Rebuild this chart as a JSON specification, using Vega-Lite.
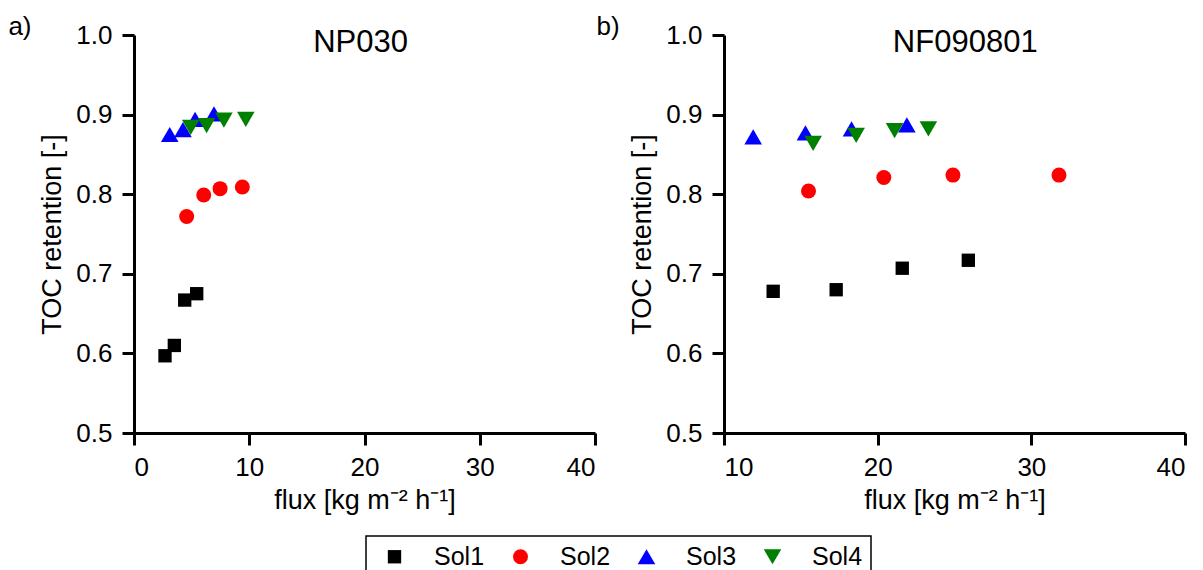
{
  "$schema": "https://vega.github.io/schema/vega-lite/v6.json",
  "padding": {"left": 8, "top": 14, "right": 0, "bottom": 0},
  "bounds": "flush",
  "spacing": 129,
  "config": {
    "font": "Liberation Sans",
    "view": {"stroke": null},
    "axis": {
      "domainColor": "black", "domainWidth": 3, "tickColor": "black", "tickWidth": 3, "tickSize": 12,
      "labelFontSize": 26, "labelColor": "black", "labelFont": "Liberation Sans",
      "titleFontSize": 27, "titleFontWeight": "normal", "titleColor": "black", "titleFont": "Liberation Sans",
      "grid": false
    },
    "axisX": {"labelPadding": 9, "titlePadding": 7},
    "axisY": {"labelPadding": 10, "titlePadding": 9},
    "legend": {"strokeWidth": 1.5},
    "text": {"font": "Liberation Sans", "color": "black"}
  },
  "datasets": {
    "np030": [
      {"series": "Sol1", "flux": 2.69, "ret": 0.597},
      {"series": "Sol1", "flux": 3.5, "ret": 0.61},
      {"series": "Sol1", "flux": 4.4, "ret": 0.667},
      {"series": "Sol1", "flux": 5.44, "ret": 0.675},
      {"series": "Sol2", "flux": 4.57, "ret": 0.772},
      {"series": "Sol2", "flux": 6.05, "ret": 0.799},
      {"series": "Sol2", "flux": 7.47, "ret": 0.807},
      {"series": "Sol2", "flux": 9.4, "ret": 0.809},
      {"series": "Sol3", "flux": 3.1, "ret": 0.875},
      {"series": "Sol3", "flux": 4.25, "ret": 0.881},
      {"series": "Sol3", "flux": 5.3, "ret": 0.894},
      {"series": "Sol3", "flux": 6.94, "ret": 0.901},
      {"series": "Sol4", "flux": 4.92, "ret": 0.884},
      {"series": "Sol4", "flux": 6.3, "ret": 0.886},
      {"series": "Sol4", "flux": 7.8, "ret": 0.893},
      {"series": "Sol4", "flux": 9.7, "ret": 0.894}
    ],
    "nf090801": [
      {"series": "Sol1", "flux": 13.2, "ret": 0.678},
      {"series": "Sol1", "flux": 17.3, "ret": 0.68},
      {"series": "Sol1", "flux": 21.6, "ret": 0.707},
      {"series": "Sol1", "flux": 25.9, "ret": 0.717},
      {"series": "Sol2", "flux": 15.5, "ret": 0.804},
      {"series": "Sol2", "flux": 20.4, "ret": 0.821},
      {"series": "Sol2", "flux": 24.9, "ret": 0.824},
      {"series": "Sol2", "flux": 31.8, "ret": 0.824},
      {"series": "Sol3", "flux": 11.9, "ret": 0.872},
      {"series": "Sol3", "flux": 15.3, "ret": 0.877},
      {"series": "Sol3", "flux": 18.3, "ret": 0.882},
      {"series": "Sol3", "flux": 21.9, "ret": 0.887},
      {"series": "Sol4", "flux": 15.8, "ret": 0.864},
      {"series": "Sol4", "flux": 18.6, "ret": 0.874},
      {"series": "Sol4", "flux": 21.1, "ret": 0.88},
      {"series": "Sol4", "flux": 23.3, "ret": 0.882}
    ]
  },
  "hconcat": [
    {
      "width": 461, "height": 398,
      "layer": [
        {
          "data": {"name": "np030"},
          "mark": {"type": "point", "filled": true, "opacity": 1, "strokeWidth": 0},
          "encoding": {
            "x": {"field": "flux", "type": "quantitative", "scale": {"domain": [0, 40], "nice": false, "zero": false}, "axis": {"values": [0, 10, 20, 30, 40], "title": "flux [kg m⁻² h⁻¹]"}},
            "y": {"field": "ret", "type": "quantitative", "scale": {"domain": [0.5, 1.0], "nice": false, "zero": false}, "axis": {"values": [0.5, 0.6, 0.7, 0.8, 0.9, 1.0], "format": ".1f", "title": "TOC retention [-]"}},
            "color": {"field": "series", "type": "nominal", "scale": {"domain": ["Sol1", "Sol2", "Sol3", "Sol4"], "range": ["#000000", "#FF0000", "#0000FF", "#008000"]},
              "legend": {"orient": "none", "legendX": 232, "legendY": 501, "direction": "horizontal", "title": " ", "titleOrient": "left", "titlePadding": 8, "titleFontSize": 24, "strokeColor": "black", "padding": 8, "labelFontSize": 25, "labelColor": "black", "labelFont": "Liberation Sans", "labelOffset": 27, "columnPadding": 23, "symbolStrokeWidth": 0, "labelExpr": "datum.label == 'Sol4' ? 'Sol4\u2003' : datum.label"}},
            "shape": {"field": "series", "type": "nominal", "scale": {"domain": ["Sol1", "Sol2", "Sol3", "Sol4"], "range": ["square", "circle", "triangle-up", "triangle-down"]},
              "legend": {"orient": "none", "legendX": 232, "legendY": 501, "direction": "horizontal", "title": " ", "titleOrient": "left", "titlePadding": 8, "titleFontSize": 24, "strokeColor": "black", "padding": 8, "labelFontSize": 25, "labelColor": "black", "labelFont": "Liberation Sans", "labelOffset": 27, "columnPadding": 23, "symbolStrokeWidth": 0, "labelExpr": "datum.label == 'Sol4' ? 'Sol4\u2003' : datum.label"}},
            "size": {"field": "series", "type": "nominal", "scale": {"type": "ordinal", "domain": ["Sol1", "Sol2", "Sol3", "Sol4"], "range": [178, 225, 310, 310]},
              "legend": {"orient": "none", "legendX": 232, "legendY": 501, "direction": "horizontal", "title": " ", "titleOrient": "left", "titlePadding": 8, "titleFontSize": 24, "strokeColor": "black", "padding": 8, "labelFontSize": 25, "labelColor": "black", "labelFont": "Liberation Sans", "labelOffset": 27, "columnPadding": 23, "symbolStrokeWidth": 0, "labelExpr": "datum.label == 'Sol4' ? 'Sol4\u2003' : datum.label"}}
          }
        },
        {
          "data": {"values": [{}]},
          "mark": {"type": "text", "text": "a)", "align": "left", "baseline": "alphabetic", "fontSize": 26},
          "encoding": {"x": {"datum": -10.9, "scale": {"domain": [0, 40]}}, "y": {"datum": 1.0, "scale": {"domain": [0.5, 1.0]}}}
        },
        {
          "data": {"values": [{}]},
          "mark": {"type": "text", "text": "NP030", "align": "center", "baseline": "alphabetic", "fontSize": 31},
          "encoding": {"x": {"datum": 19.66, "scale": {"domain": [0, 40]}}, "y": {"datum": 0.9786, "scale": {"domain": [0.5, 1.0]}}}
        }
      ]
    },
    {
      "width": 461, "height": 398,
      "layer": [
        {
          "data": {"name": "nf090801"},
          "mark": {"type": "point", "filled": true, "opacity": 1, "strokeWidth": 0},
          "encoding": {
            "x": {"field": "flux", "type": "quantitative", "scale": {"domain": [10, 40], "nice": false, "zero": false}, "axis": {"values": [10, 20, 30, 40], "title": "flux [kg m⁻² h⁻¹]"}},
            "y": {"field": "ret", "type": "quantitative", "scale": {"domain": [0.5, 1.0], "nice": false, "zero": false}, "axis": {"values": [0.5, 0.6, 0.7, 0.8, 0.9, 1.0], "format": ".1f", "title": "TOC retention [-]"}},
            "color": {"field": "series", "type": "nominal", "scale": {"domain": ["Sol1", "Sol2", "Sol3", "Sol4"], "range": ["#000000", "#FF0000", "#0000FF", "#008000"]}},
            "shape": {"field": "series", "type": "nominal", "scale": {"domain": ["Sol1", "Sol2", "Sol3", "Sol4"], "range": ["square", "circle", "triangle-up", "triangle-down"]}},
            "size": {"field": "series", "type": "nominal", "scale": {"type": "ordinal", "domain": ["Sol1", "Sol2", "Sol3", "Sol4"], "range": [178, 225, 310, 310]}}
          }
        },
        {
          "data": {"values": [{}]},
          "mark": {"type": "text", "text": "b)", "align": "left", "baseline": "alphabetic", "fontSize": 26},
          "encoding": {"x": {"datum": 1.7, "scale": {"domain": [10, 40]}}, "y": {"datum": 1.0, "scale": {"domain": [0.5, 1.0]}}}
        },
        {
          "data": {"values": [{}]},
          "mark": {"type": "text", "text": "NF090801", "align": "center", "baseline": "alphabetic", "fontSize": 31},
          "encoding": {"x": {"datum": 25.7, "scale": {"domain": [10, 40]}}, "y": {"datum": 0.9786, "scale": {"domain": [0.5, 1.0]}}}
        }
      ]
    }
  ],
  "resolve": {"scale": {"color": "shared", "shape": "shared", "size": "shared"}}
}
